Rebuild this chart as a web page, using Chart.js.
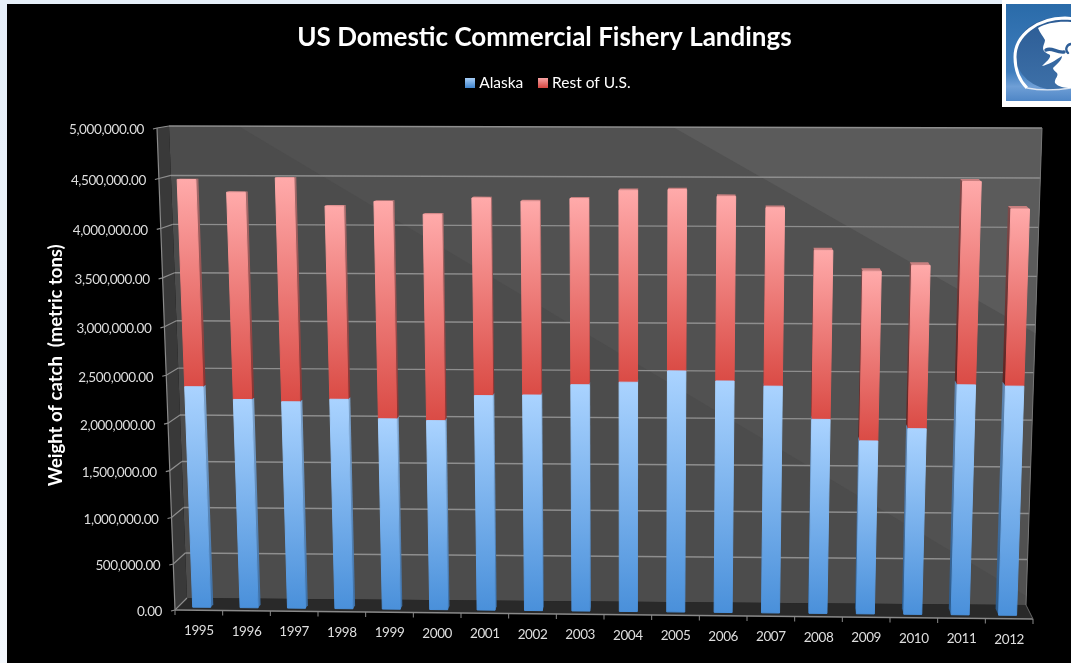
<!DOCTYPE html>
<html>
<head>
<meta charset="utf-8">
<title>US Domestic Commercial Fishery Landings</title>
<script src="https://cdn.jsdelivr.net/npm/chart.js@4/dist/chart.umd.min.js"></script>
<style>
  html, body { margin: 0; padding: 0; width: 1071px; height: 663px; overflow: hidden; }
  body { background: linear-gradient(#e6eff9, #f3f7fc); position: relative; }
  #backdrop { position: absolute; left: 7px; top: 4px; right: 0; bottom: 0; background: #000; }
  #chartBox { position: absolute; left: 0; top: 0; width: 1071px; height: 663px; }
  #logo { position: absolute; left: 1002px; top: 0; }
</style>
</head>
<body>
<div id="backdrop"></div>
<div id="chartBox"><canvas id="landingsChart" width="1071" height="663"></canvas></div>
<svg id="logo" width="69" height="107" viewBox="0 0 69 107">
  <defs>
    <linearGradient id="logoBg" x1="0" y1="0" x2="0" y2="1">
      <stop offset="0" stop-color="#2a6ba9"/>
      <stop offset="0.7" stop-color="#3f7dbd"/>
      <stop offset="0.85" stop-color="#6f9fd6"/>
      <stop offset="1" stop-color="#4f86c6"/>
    </linearGradient>
    <linearGradient id="logoDisc" x1="0" y1="0" x2="0" y2="1">
      <stop offset="0" stop-color="#2c5c95"/>
      <stop offset="1" stop-color="#3d70a8"/>
    </linearGradient>
  </defs>
  <rect width="69" height="107" fill="#fff"/>
  <rect x="4" y="4" width="65" height="97" fill="url(#logoBg)"/>
  <ellipse cx="54" cy="54" rx="41" ry="36" fill="url(#logoDisc)"/>
  <path d="M25 88 C17 80 13 68 13 57 C13 35 36 18 63 18 L69 18.5" fill="none" stroke="#fff" stroke-width="3"/>
  <path d="M25 88 C40 91 56 90 69 88" fill="none" stroke="#dde6f2" stroke-width="1.4"/>
  <path d="M36 28 C44 23 56 21 69 22 L69 88 C63 88 56 87 53 83 C52 79 57 76 55 73 C53 71 51 70 51 68 C55 64 60 60 60 56 C54 60 46 65 40 66 C44 62 49 58 48 55 C45 53 41 52 41 48 C41 45 43 43 43 40 C41 36 38 33 36 28 Z" fill="#fff"/>
  <path d="M44 50 C50 47 54 53 62 52" fill="none" stroke="#2f5f98" stroke-width="3.4" stroke-linecap="round"/>
  <path d="M69 44 C64 45 63 50 66 53" fill="none" stroke="#2f5f98" stroke-width="2.4" stroke-linecap="round"/>
</svg>
<script>
const years = ['1995', '1996', '1997', '1998', '1999', '2000', '2001', '2002', '2003',
  '2004', '2005', '2006', '2007', '2008', '2009', '2010', '2011', '2012'];
const alaska = [2363000, 2233000, 2213000, 2243000, 2042000, 2027000, 2293000, 2303000, 2414000,
  2444000, 2565000, 2464000, 2414000, 2072000, 1850000, 1982000, 2443000, 2433000];
const restOfUS = [2121000, 2126000, 2292000, 1982000, 2232000, 2121000, 2021000, 1982000, 1900000,
  1956000, 1845000, 1880000, 1820000, 1736000, 1750000, 1680000, 2062000, 1801000];
const yMax = 5000000;
const yStep = 500000;

// corners of the chart's box on screen: bottom-left, bottom-right, top-left, top-right
const frontPlane = [[175, 610], [1033, 619], [157, 128], [1049, 133]];
const backPlane = [[187, 598], [1026, 605], [169, 126], [1042, 128]];
const barFront = 0.25;
const heightBow = 0.053;   // value axis spacing widens slightly towards the top

function mix(a, b, t) {
  return a + (b - a) * t;
}

function bilerp(c, u, v) {
  return [
    mix(mix(c[0][0], c[1][0], u), mix(c[2][0], c[3][0], u), v),
    mix(mix(c[0][1], c[1][1], u), mix(c[2][1], c[3][1], u), v)
  ];
}

// u runs along the categories, v up the value axis, d from front (0) to back (1)
function boxPoint(u, v, d) {
  const bowed = v / (1 + heightBow * (1 - v));
  const f = bilerp(frontPlane, u, bowed);
  const b = bilerp(backPlane, u, bowed);
  return [mix(f[0], b[0], d), mix(f[1], b[1], d)];
}

// pixel position from the chart's scales into the tilted box
function scaledPoint(chart, px, py, d) {
  const a = chart.chartArea;
  return boxPoint((px - a.left) / (a.right - a.left), (a.bottom - py) / (a.bottom - a.top), d);
}

function fillQuad(ctx, pts, fill) {
  ctx.beginPath();
  pts.forEach((p, i) => (i ? ctx.lineTo(p[0], p[1]) : ctx.moveTo(p[0], p[1])));
  ctx.closePath();
  ctx.fillStyle = fill;
  ctx.fill();
}

function strokeLine(ctx, pts, color, width) {
  ctx.beginPath();
  pts.forEach((p, i) => (i ? ctx.lineTo(p[0], p[1]) : ctx.moveTo(p[0], p[1])));
  ctx.strokeStyle = color;
  ctx.lineWidth = width;
  ctx.stroke();
}

function tickText(ctx, text, x, y, align) {
  ctx.fillStyle = '#dedede';
  ctx.font = '13.5px Lato';
  ctx.letterSpacing = '-0.4px';
  ctx.textAlign = align;
  ctx.textBaseline = 'middle';
  ctx.fillText(text, x, y);
  ctx.letterSpacing = '0px';
}

function drawRoom(chart) {
  const ctx = chart.ctx;
  const wall = [boxPoint(0, 0, 1), boxPoint(1, 0, 1), boxPoint(1, 1, 1), boxPoint(0, 1, 1)];

  fillQuad(ctx, [boxPoint(0, 0, 0), boxPoint(0, 0, 1), boxPoint(0, 1, 1), boxPoint(0, 1, 0)], '#393939');
  fillQuad(ctx, [boxPoint(0, 0, 0), boxPoint(1, 0, 0), boxPoint(1, 0, 1), boxPoint(0, 0, 1)], '#292929');

  // back wall with its two soft diagonal sheen bands
  fillQuad(ctx, wall, '#4c4c4c');
  ctx.save();
  ctx.beginPath();
  wall.forEach((p, i) => (i ? ctx.lineTo(p[0], p[1]) : ctx.moveTo(p[0], p[1])));
  ctx.closePath();
  ctx.clip();
  fillQuad(ctx, [[240, 127], [1100, 127], [1100, 640]], '#515151');
  fillQuad(ctx, [[673, 127], [1100, 127], [1100, 370]], '#5b5b5b');
  ctx.restore();

  const yScale = chart.scales.y;
  const xScale = chart.scales.x;
  const gridColor = '#8e8e8e';

  yScale.ticks.forEach((tick) => {
    const py = yScale.getPixelForValue(tick.value);
    const a = chart.chartArea;
    const out = scaledPoint(chart, a.left, py, 0);
    const join = scaledPoint(chart, a.left, py, 1);
    const end = scaledPoint(chart, a.right, py, 1);
    if (tick.value > 0) {
      strokeLine(ctx, [join, end], gridColor, 1.4);
    }
    strokeLine(ctx, [[out[0] - 4, out[1] + 1], out, join], gridColor, 1.2);
    tickText(ctx, tick.label, out[0] - 13, out[1] + 2, 'right');
  });

  // axis edges of the box
  strokeLine(ctx, [boxPoint(0, 0, 0), boxPoint(0, 0.5, 0), boxPoint(0, 1, 0)], '#8a8a8a', 1.2);
  strokeLine(ctx, [boxPoint(1, 0, 1), boxPoint(1, 1, 1)], '#777777', 1);
  strokeLine(ctx, [boxPoint(0, 0, 0), boxPoint(1, 0, 0)], '#8a8a8a', 1.4);
  strokeLine(ctx, [boxPoint(1, 0, 0), boxPoint(1, 0, 1)], '#666666', 1);

  for (let i = 0; i <= years.length; i++) {
    const p = boxPoint(i / years.length, 0, 0);
    strokeLine(ctx, [p, [p[0], p[1] + 5]], '#8a8a8a', 1);
  }

  xScale.ticks.forEach((tick, i) => {
    const p = scaledPoint(chart, xScale.getPixelForTick(i), chart.chartArea.bottom, 0);
    tickText(ctx, tick.label, p[0], p[1] + 20.5, 'center');
  });
}

// the stacked bars as lit boxes standing in the tilted room
function drawBars(chart, datasetIndex) {
  const ctx = chart.ctx;
  const shades = barShades[datasetIndex];
  const area = chart.chartArea;
  chart.getDatasetMeta(datasetIndex).data.forEach((bar) => {
    const half = bar.width / 2;
    const l = bar.x - half;
    const r = bar.x + half;
    // bars read a little deeper towards the right hand end
    const barBack = mix(0.47, 0.72, (bar.x - area.left) / (area.right - area.left));
    const fb = scaledPoint(chart, l, bar.base, barFront);
    const fbr = scaledPoint(chart, r, bar.base, barFront);
    const ft = scaledPoint(chart, l, bar.y, barFront);
    const ftr = scaledPoint(chart, r, bar.y, barFront);
    const bb = scaledPoint(chart, l, bar.base, barBack);
    const bbr = scaledPoint(chart, r, bar.base, barBack);
    const bt = scaledPoint(chart, l, bar.y, barBack);
    const btr = scaledPoint(chart, r, bar.y, barBack);

    const grad = (top, bottom) => {
      const g = ctx.createLinearGradient(0, ft[1], 0, fb[1]);
      g.addColorStop(0, top);
      g.addColorStop(1, bottom);
      return g;
    };

    if (btr[0] > ftr[0]) {
      fillQuad(ctx, [fbr, bbr, btr, ftr], grad(shades.sideTop, shades.sideBottom));
    }
    if (bt[0] < ft[0]) {
      fillQuad(ctx, [fb, bb, bt, ft], grad(shades.darkTop, shades.darkBottom));
    }
    // only the top of the stack shows a cap
    if (shades.cap) {
      fillQuad(ctx, [ft, ftr, btr, bt], shades.cap);
    }

    const face = grad(shades.top, shades.bottom);
    fillQuad(ctx, [fb, fbr, ftr, ft], face);
    ctx.lineJoin = 'round';
    ctx.strokeStyle = face;
    ctx.lineWidth = 1;
    ctx.stroke();
  });
}

const barShades = [
  { top: '#aad3ff', bottom: '#4a90da', sideTop: '#7da3cc', sideBottom: '#3c6fa6',
    darkTop: '#5f86b2', darkBottom: '#2a5a8c', cap: null },
  { top: '#ffaaaa', bottom: '#da4b45', sideTop: '#a56c6c', sideBottom: '#8a3331',
    darkTop: '#7e4a4a', darkBottom: '#5f2220', cap: '#c98080' }
];

function legendMarker(top, bottom) {
  const c = document.createElement('canvas');
  c.width = 10;
  c.height = 10;
  const g = c.getContext('2d');
  const fill = g.createLinearGradient(0, 0, 0, 10);
  fill.addColorStop(0, top);
  fill.addColorStop(1, bottom);
  g.fillStyle = fill;
  g.fillRect(0, 0, 10, 10);
  return c;
}

const tiltedBox = {
  id: 'tiltedBox',
  afterLayout(chart) {
    // legend sits a touch right of the title's centre line
    chart.legend.left += 5;
    chart.legend.right += 5;
  },
  beforeDatasetsDraw(chart) {
    drawRoom(chart);
  },
  beforeDatasetDraw(chart, args) {
    drawBars(chart, args.index);
    return false;
  }
};

const ctx = document.getElementById('landingsChart').getContext('2d');
const landingsChart = new Chart(ctx, {
  type: 'bar',
  data: {
    labels: years,
    datasets: [
      {
        label: 'Alaska',
        data: alaska,
        backgroundColor: '#6fb0ee',
        pointStyle: legendMarker('#a6cdf6', '#3f84cd'),
        barPercentage: 1,
        categoryPercentage: 0.38
      },
      {
        label: 'Rest of U.S.',
        data: restOfUS,
        backgroundColor: '#ee7a76',
        pointStyle: legendMarker('#f7a3a3', '#d5453f'),
        barPercentage: 1,
        categoryPercentage: 0.38
      }
    ]
  },
  options: {
    responsive: false,
    animation: false,
    layout: { padding: { left: 18, right: 0, top: 22, bottom: 25 } },
    plugins: {
      title: {
        display: true,
        text: 'US Domestic Commercial Fishery Landings',
        color: '#ffffff',
        font: { family: 'Lato', size: 26, weight: 'bold' },
        padding: { top: 0, bottom: 4 }
      },
      legend: {
        display: true,
        position: 'top',
        labels: {
          color: '#ffffff',
          font: { family: 'Lato', size: 15.5 },
          usePointStyle: true,
          boxWidth: 3,
          boxHeight: 10,
          padding: 18
        }
      },
      tooltip: { enabled: false }
    },
    scales: {
      x: {
        stacked: true,
        grid: { display: false },
        border: { display: false },
        ticks: { display: false, autoSkip: false }
      },
      y: {
        stacked: true,
        min: 0,
        max: yMax,
        grid: { display: false },
        border: { display: false },
        ticks: {
          display: false,
          stepSize: yStep,
          callback: (value) => value.toLocaleString('en-US', { minimumFractionDigits: 2, maximumFractionDigits: 2 })
        },
        title: {
          display: true,
          text: 'Weight of catch  (metric tons)',
          color: '#ffffff',
          font: { family: 'Lato', size: 18.5, weight: 'bold' },
          padding: { top: 27, bottom: 0 }
        }
      }
    }
  },
  plugins: [tiltedBox]
});
</script>
</body>
</html>
